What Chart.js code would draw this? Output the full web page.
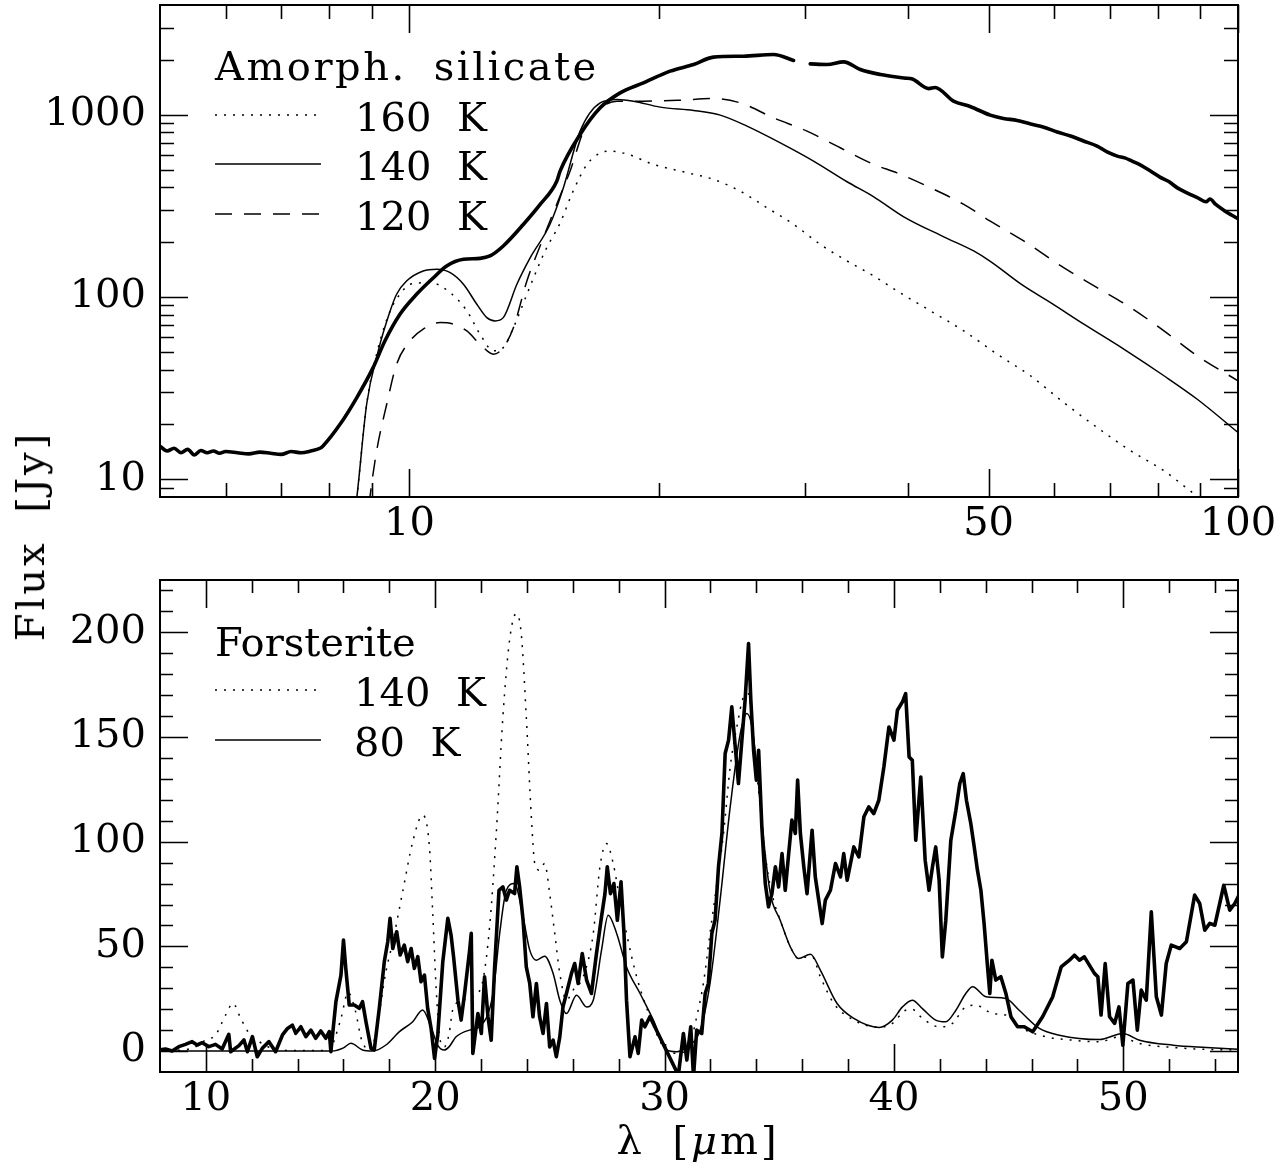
<!DOCTYPE html>
<html>
<head>
<meta charset="utf-8">
<script src="https://cdn.jsdelivr.net/npm/chart.js@4.4.1/dist/chart.umd.min.js"></script>
<style>
    html, body { margin: 0; padding: 0; background: #fff; }
    #wrap { position: relative; width: 1286px; height: 1171px; background: #fff; overflow: hidden; }
    #topBox { position: absolute; left: 0; top: 0; }
    #botBox { position: absolute; left: 0; top: 560px; }
    .axis-title {
        position: absolute;
        font-family: 'DejaVu Serif', serif;
        font-size: 40px;
        line-height: 1;
        white-space: nowrap;
        color: #000;
        letter-spacing: 3px;
        word-spacing: 12px;
        transform: translate(-50%, -50%);
    }
    #yTitle { left: 30px; top: 536px; transform: translate(-50%, -50%) rotate(-90deg); }
    #xTitle { left: 698px; top: 1140px; }
</style>
</head>
<body>
<div id="wrap">
    <div id="topBox"><canvas id="topChart" width="1286" height="560"></canvas></div>
    <div id="botBox"><canvas id="botChart" width="1286" height="611"></canvas></div>
    <div class="axis-title" id="yTitle">Flux [Jy]</div>
    <div class="axis-title" id="xTitle">λ [<i>μ</i>m]</div>
</div>
<script>
// ===== DATA =====
// Upper panel: amorphous silicate fits (log-log)
const silObsX = [5.0, 5.1, 5.2, 5.3, 5.4, 5.5, 5.6, 5.7, 5.8, 5.9, 6.0, 6.2, 6.4, 6.6, 6.8, 7.0, 7.2, 7.4, 7.6, 7.8,
    7.87, 8.25, 8.64, 9.04, 9.34, 9.74, 10.2, 10.69, 11.09, 11.62, 12.17, 12.51, 12.98, 13.73, 14.38, 15.06, 15.2,
    16.07, 16.99, 17.96, 19.16, 20.64, 22.03, 23.28, 25.31, 27.51, 29.08, 29.7, 30.46, 31.92, 33.42, 35.01, 37.02,
    39.54, 40.46, 42.35, 43.09, 45.36, 47.5, 50.24, 52.1, 54.14, 56.2, 58.3, 60.5, 62.8, 65.1, 67.6, 69.5, 71.5,
    73.0, 74.5, 76.4, 78.4, 80.5, 82.5, 84.5, 86.9, 89.3, 91.5, 92.5, 94.0, 96.5, 98.2, 100];
const silObsY = [15.2, 14.3, 14.8, 14.0, 14.6, 13.6, 14.4, 14.0, 14.3, 13.9, 14.2, 14.0, 13.8, 14.1, 13.9, 13.7, 14.2, 14.0, 14.3, 14.8,
    15.3, 20.1, 28.1, 41.0, 57.4, 80.5, 103.5, 127.6, 148, 161, 163, 168, 190.5, 250.6, 322, 432, 491,
    780, 1091, 1318, 1496, 1734, 1888, 2070, 2095, 2140, 1985, null, 1902, 1888, 1951, 1771, 1663,
    1591, 1570, 1391, 1410, 1188, 1110, 995, 955, 931, 890, 855, 805, 764, 718, 673, 625, 593,
    580, 557, 528, 491, 455, 430, 397, 372, 351, 333, 345, 322, 296, 282, 269];

const sil160X = [8.52, 8.64, 8.88, 9.17, 9.48, 9.74, 10.02, 10.59, 11.2, 11.73, 12.17, 12.63, 12.98, 13.35, 13.99,
    14.58, 15.2, 15.76, 16.39, 16.99, 17.47, 18.32, 19.71, 21.63, 23.28, 25.07, 27.01, 29.08, 31.32, 33.74, 36.34,
    38.77, 42.54, 46.67, 51.21, 56.17, 61.6, 67.6, 74.2, 81.4, 88.1, 94, 100];
const sil160Y = [5, 7.96, 25.9, 52.8, 84, 103.6, 117.5, 120, 105.7, 84, 62.5, 50.7, 52.8, 67.9, 115,
    179, 254.7, 381, 536, 616, 631, 608, 534, 481, 442, 381, 309, 250.6, 194.6, 157.7, 130.5,
    108, 84, 65.2, 48.6, 37.0, 26.4, 19.25, 14.35, 11.15, 8.47, 6.9, 5.6];

const sil140X = [8.52, 8.64, 8.88, 9.17, 9.48, 9.65, 9.92, 10.39, 10.79, 11.2, 11.62, 12.06, 12.4, 12.69, 12.98,
    13.48, 13.99, 14.78, 15.34, 16.07, 16.99, 17.8, 18.64, 20.08, 22.03, 23.72, 25.55, 28.03, 30.74, 33.74, 36.34,
    39.5, 44.15, 47.97, 50.24, 55.13, 59.4, 65.16, 72.8, 81.4, 89.3, 100];
const sil140Y = [5, 7.96, 25.9, 50.7, 84, 103.6, 122.4, 139, 142, 136, 117.5, 91.3, 77.1, 74, 77.1,
    117.5, 164.4, 250.6, 398, 813, 1162, 1213, 1187, 1101, 1056, 995, 866, 701, 557, 429, 354.6,
    275.6, 214, 179, 157, 115, 93.2, 71, 51.8, 37.0, 27.5, 18.07];

const sil120X = [8.86, 8.96, 9.13, 9.39, 9.65, 10.02, 10.39, 10.89, 11.3, 11.73, 12.17, 12.63, 12.98, 13.35, 13.86,
    14.51, 15.34, 15.63, 16.22, 16.84, 17.8, 19.16, 21.22, 23.28, 25.07, 27.51, 30.19, 33.11, 36.34, 38.77,
    42.54, 46.67, 50.24, 55.13, 61.6, 67.6, 74.2, 81.4, 89.3, 100];
const sil120Y = [5, 7.96, 14.35, 25.9, 42.8, 57.5, 66.6, 72.4, 71, 65.2, 55.1, 48.6, 52.8, 67.9, 122.4,
    211.6, 398, 491, 813, 1046, 1187, 1187, 1202, 1228, 1162, 961, 813, 659, 534, 480,
    398, 322, 261, 203, 145, 112.6, 87.5, 65.2, 47.6, 34.7];

// Lower panel: forsterite fits (linear)
const forObsX = [7.95, 8.24, 8.53, 8.82, 9.11, 9.40, 9.62, 9.84, 10.13, 10.42, 10.71, 11.0, 11.08, 11.44, 11.66, 11.81,
    12.03, 12.24, 12.46, 12.75, 13.04, 13.34, 13.56, 13.77, 13.92, 14.14, 14.36, 14.58, 14.79, 15.01, 15.23, 15.38,
    15.45, 15.67, 15.89, 16.0, 16.1, 16.25, 16.47, 16.69, 16.83, 16.98, 17.2, 17.34, 17.56, 17.78, 17.93, 18.03,
    18.15, 18.32, 18.47, 18.65, 18.8, 18.95, 19.09, 19.24, 19.38, 19.53, 19.67, 19.82, 19.97, 20.11, 20.33, 20.55,
    20.69, 20.8, 20.99, 21.13, 21.28, 21.5, 21.57, 21.64, 21.86, 22.01, 22.15, 22.3, 22.44, 22.59, 22.78, 22.95,
    23.1, 23.24, 23.46, 23.56, 23.68, 23.83, 23.97, 24.12, 24.26, 24.41, 24.55, 24.7, 24.85, 24.99, 25.14, 25.28,
    25.43, 25.57, 25.72, 25.94, 26.08, 26.23, 26.41, 26.6, 26.81, 27.03, 27.25, 27.4, 27.5, 27.64, 27.79, 27.94,
    28.1, 28.23, 28.34, 28.49, 28.71, 28.85, 29.0, 29.14, 29.36, 30.6, 30.82, 30.97, 31.14, 31.26, 31.4, 31.62,
    31.77, 31.91, 32.06, 32.2, 32.35, 32.5, 32.64, 32.79, 32.93, 33.08, 33.22, 33.37, 33.51, 33.66, 33.76, 33.88,
    34.0, 34.1, 34.24, 34.39, 34.53, 34.68, 34.83, 34.97, 35.12, 35.26, 35.41, 35.55, 35.7, 35.8, 35.92, 36.07,
    36.21, 36.43, 36.57, 36.72, 36.87, 37.01, 37.23, 37.45, 37.67, 37.81, 37.96, 38.25, 38.47, 38.69, 38.9, 39.12,
    39.34, 39.56, 39.78, 40.0, 40.15, 40.37, 40.51, 40.66, 40.8, 40.95, 41.17, 41.36, 41.53, 41.68, 41.82, 41.97,
    42.11, 42.26, 42.48, 42.7, 42.87, 43.02, 43.16, 43.35, 43.5, 43.64, 43.79, 43.93, 44.08, 44.18, 44.27, 44.44,
    44.66, 44.88, 45.1, 45.39, 45.68, 46.05, 46.48, 46.92, 47.29, 47.65, 47.87, 48.09, 48.3, 48.74, 48.89, 49.03,
    49.21, 49.4, 49.62, 49.81, 49.98, 50.2, 50.42, 50.61, 50.78, 51.0, 51.22, 51.44, 51.66, 51.87, 52.09, 52.46,
    52.75, 53.11, 53.33, 53.55, 53.77, 53.99, 54.38, 54.64, 54.86, 55.08];
const forObsY = [0.5, 1.0, 0, 2.1, 3.2, 4.5, 2.9, 4.0, 2.1, 3.2, 1.0, 8.0, -0.3, 2.6, 5.3, -0.3,
    6.9, -2.7, 1.3, 4.5, -0.3, 7.7, 10.8, 12.4, 8.5, 11.6, 6.9, 10.0, 6.1, 9.6, 6.1, 9.3,
    -0.3, 23.6, 36.3, 53.0, 39.5, 22.0, 22.0, 20.4, 23.6, 14.0, 1.3, 0.5, 20.4, 42.7, 52.2, 63.4,
    49.0, 57.0, 45.9, 50.6, 42.7, 49.0, 39.5, 45.1, 33.1, 36.3, 20.4, 10.8, -3.5, 7.7, 42.7, 63.4,
    55.4, 45.0, 24.3, 14.8, 27.5, 48.2, 56.2, -1.1, 17.9, 8.4, 35.5, 16.4, 5.2, 40.2, 76.8, 78.4,
    72.1, 76.8, 75.2, 88.0, 78.4, 62.5, 40.2, 32.3, 16.4, 32.3, 16.4, 8.4, 22.7, 2.0, 5.2, -2.7,
    6.8, 21.1, 27.5, 37.1, 41.8, 32.3, 46.6, 33.9, 27.5, 46.6, 64.1, 75.2, 88.0, 75.2, 80.0, 62.5,
    80.8, 56.2, 24.3, -2.7, 6.8, -1.1, 14.8, 11.6, 16.4, -11.5, 8.4, -4.3, 11.6, -12.3, 10.0, 8.4,
    27.5, 32.3, 56.2, 62.5, 88.0, 103.9, 142.1, 148.5, 164.4, 145.3, 127.8, 148.5, 167.6, 194.6, 167.6, 143.7,
    129.4, 143.7, 107.1, 80.0, 68.9, 75.2, 88.0, 78.4, 94.3, 76.8, 94.3, 110.3, 103.9, 129.4, 103.9, 88.0,
    75.2, 105.5, 83.2, 72.1, 60.9, 72.1, 76.8, 89.6, 83.2, 94.3, 81.6, 97.5, 92.7, 111.9, 116.6, 113.4,
    119.8, 135.7, 154.8, 148.5, 162.8, 166.8, 170.7, 140.5, 138.9, 100.7, 130.9, 91.2, 76.8, 88.0, 97.5, 81.6,
    45.0, 62.5, 100.7, 115.0, 127.8, 132.5, 119.8, 108.7, 97.5, 86.4, 76.8, 60.9, 40.2, 27.5, 43.4, 33.9,
    35.5, 27.5, 16.4, 11.6, 11.6, 9.2, 16.4, 25.9, 40.2, 43.4, 45.8, 43.4, 45.0, 37.1, 35.5, 17.2,
    41.8, 16.4, 13.2, 21.1, 2.8, 32.3, 33.9, 10.0, 29.1, 24.3, 66.5, 25.9, 17.2, 41.8, 50.6, 49.0,
    52.2, 74.5, 70.5, 57.7, 61.0, 60.1, 79.2, 67.3, 70.5, 75.3];

const for140X = [8, 9.4, 9.99, 10.42, 10.86, 11.18, 11.52, 11.88, 12.32, 12.9, 13.77, 15.38, 15.67, 15.9, 16.2, 16.5,
    16.8, 17.2, 17.42, 17.85, 18.15, 18.58, 19.02, 19.45, 19.75, 19.89, 20.04, 20.2, 20.4, 20.6, 20.77, 21.2,
    21.64, 22.08, 22.37, 22.66, 22.95, 23.24, 23.53, 23.75, 23.97, 24.19, 24.34, 24.55, 24.77, 24.99, 25.21, 25.43,
    25.72, 26.01, 26.45, 26.89, 27.18, 27.47, 27.76, 28.05, 28.34, 28.78, 29.36, 29.95, 30.53, 31.11, 31.4, 31.69,
    31.98, 32.28, 32.57, 32.86, 33.15, 33.44, 33.66, 33.88, 34.17, 34.46, 34.75, 35.04, 35.48, 35.84, 36.21, 36.43,
    36.79, 37.38, 38.25, 39.35, 39.93, 40.51, 40.8, 41.24, 41.97, 42.55, 43.13, 43.57, 44.3, 44.88, 45.61, 46.63,
    47.8, 48.96, 49.83, 50.71, 52.17, 53.62, 55.08];
const for140Y = [0, 1.3, 5.3, 7.7, 17.2, 22.8, 15.6, 8.5, 4.5, 1.3, 0.3, 0.3, 7.7, 16, 28, 20,
    5, 0.5, 9.3, 37.9, 52.2, 76.1, 100, 112.7, 97, 66, 30, 6, 2, 8, 20, 24.3,
    25.9, 33.9, 59.3, 103.9, 159.6, 196.2, 208.9, 199.4, 159.6, 111.9, 89.6, 86.4, 89.6, 75.2, 56.2, 37.1,
    24.3, 29.1, 35.5, 56.2, 88.0, 99.1, 89.6, 72.1, 56.2, 35.5, 16.4, 2.0, -1.1, 3.6, 16.4, 32.3,
    56.2, 80.0, 103.9, 135.7, 154.8, 169.1, 170.7, 148.5, 116.6, 88.0, 72.1, 62.5, 49.8, 44.2, 45.0, 45.0,
    35.5, 22.7, 14.8, 11.3, 13.2, 19.5, 19.9, 15.6, 11.6, 13.2, 21.1, 21.9, 17.9, 17.2, 10.8, 6.8,
    5.2, 4.4, 6.8, 3.6, 1.7, 0.8, 0.5];

const for80X = [8, 15.5, 16.0, 16.32, 16.83, 17.27, 17.85, 18.44, 19.02, 19.45, 19.8, 20.1, 20.4, 20.6, 20.91, 21.5,
    21.93, 22.52, 22.81, 23.1, 23.45, 23.83, 24.12, 24.41, 24.77, 25.14, 25.43, 25.72, 26.16, 26.6, 26.89, 27.25,
    27.54, 27.91, 28.34, 28.93, 29.51, 30.09, 30.53, 30.97, 31.55, 31.98, 32.42, 32.86, 33.3, 33.59, 33.81, 34.02,
    34.32, 34.61, 35.04, 35.48, 35.84, 36.36, 36.79, 37.52, 38.25, 39.35, 39.93, 40.37, 40.8, 41.24, 41.82, 42.26,
    42.7, 43.13, 43.43, 44.01, 44.88, 45.46, 46.34, 47.21, 48.96, 49.98, 50.71, 52.17, 53.62, 55.08];
const for80Y = [0, 0, 1.5, 3.7, 0.5, 0, 2.9, 9.3, 14.0, 19.6, 12, 3, 0.5, 2, 6.8, 10.0,
    11.6, 27.5, 56.2, 76.8, 80, 64.1, 48.2, 43.4, 45.3, 37.1, 24.3, 17.9, 26.7, 21.1, 24.3, 48.2,
    64.9, 56.2, 40.2, 27.5, 14.8, 0.5, -0.3, 2.0, 10.0, 32.3, 72.1, 116.6, 151.6, 161.2, 154.8, 135.7,
    100.7, 75.2, 62.5, 49.8, 44.2, 46.3, 38.7, 22.7, 15.6, 11.3, 14.8, 21.1, 24.3, 20.3, 14.8, 14.0,
    19.5, 27.5, 30.7, 25.9, 25.1, 19.5, 10.8, 7.6, 5.5, 8.4, 5.2, 2.8, 1.7, 0.8];

// Tick values
const topXLabels = [10, 50, 100];
const topXMinor = [6, 7, 8, 9, 20, 30, 40, 60, 70, 80, 90];
const topYLabels = [10, 100, 1000];
const topYMinor = [9, 20, 30, 40, 50, 60, 70, 80, 90, 200, 300, 400, 500, 600, 700, 800, 900, 2000, 3000];
const botXLabels = [10, 20, 30, 40, 50];
const botXMinor = [12, 14, 16, 18, 22, 24, 26, 28, 32, 34, 36, 38, 42, 44, 46, 48, 52, 54];
const botYLabels = [0, 50, 100, 150, 200];
const botYMinor = [10, 20, 30, 40, 60, 70, 80, 90, 110, 120, 130, 140, 160, 170, 180, 190, 210, 220];

// ===== STYLE =====
const FONT = "'DejaVu Serif', serif";
const ink = '#000';
const thick = 3.6;
const thin = 1.5;
const dotDash = [2, 7];
const longDash = [17, 12];

const pts = (xs, ys) => xs.map((x, i) => ({ x, y: ys[i] }));

/**
 * Draws the closed frame and inward ticks on all four sides
 */
const idlFrame = {
    id: 'idlFrame',
    afterDatasetsDraw(chart, args, opts) {
        const { ctx, chartArea: a, scales } = chart;
        const xs = scales.x;
        const ys = scales.y;
        ctx.save();
        ctx.strokeStyle = ink;
        ctx.lineWidth = 1.6;
        ctx.setLineDash([]);
        ctx.beginPath();
        const tickX = (v, len) => {
            const p = Math.round(xs.getPixelForValue(v)) + 0.5;
            ctx.moveTo(p, a.bottom); ctx.lineTo(p, a.bottom - len);
            ctx.moveTo(p, a.top); ctx.lineTo(p, a.top + len);
        };
        const tickY = (v, len) => {
            const p = Math.round(ys.getPixelForValue(v)) + 0.5;
            ctx.moveTo(a.left, p); ctx.lineTo(a.left + len, p);
            ctx.moveTo(a.right, p); ctx.lineTo(a.right - len, p);
        };
        opts.xMajor.forEach(v => tickX(v, opts.major));
        opts.xMinor.forEach(v => tickX(v, opts.minor));
        opts.yMajor.forEach(v => tickY(v, opts.major));
        opts.yMinor.forEach(v => tickY(v, opts.minor));
        ctx.stroke();
        ctx.lineWidth = 2;
        ctx.strokeRect(a.left, a.top, a.right - a.left, a.bottom - a.top);
        ctx.restore();
    }
};

/**
 * Draws the in-plot legend: a heading then one line sample per labelled dataset
 */
const idlLegend = {
    id: 'idlLegend',
    afterDraw(chart, args, opts) {
        const { ctx } = chart;
        ctx.save();
        ctx.fillStyle = ink;
        ctx.strokeStyle = ink;
        ctx.font = '40px ' + FONT;
        ctx.textBaseline = 'alphabetic';
        ctx.textAlign = 'left';
        ctx.letterSpacing = opts.titleLetter;
        ctx.wordSpacing = opts.titleWord;
        ctx.fillText(opts.title, opts.x, opts.titleY);
        ctx.letterSpacing = '0px';
        ctx.wordSpacing = '13px';
        const labelled = chart.data.datasets.filter(d => d.label);
        opts.rows.forEach((rowY, i) => {
            const ds = labelled[i];
            ctx.lineWidth = ds.borderWidth;
            ctx.setLineDash(ds.borderDash || []);
            ctx.beginPath();
            ctx.moveTo(opts.x, rowY);
            ctx.lineTo(opts.lineEnd, rowY);
            ctx.stroke();
            ctx.setLineDash([]);
            ctx.fillText(ds.label, opts.textX, rowY + 16);
        });
        ctx.restore();
    }
};

const tickFont = { family: FONT, size: 40 };

const scaleCommon = (type, min, max, labels, padding, horizontal, fitVal) => ({
    type,
    min,
    max,
    grid: { display: false, drawTicks: false },
    border: { display: false },
    afterBuildTicks: axis => { axis.ticks = labels.map(v => ({ value: v })); },
    afterFit: scale => {
        // fixed axis size and no label overhang, so the plot box lands where the frame is
        if (horizontal) {
            scale.height = fitVal;
            scale.paddingLeft = 0;
            scale.paddingRight = 0;
        } else {
            scale.width = fitVal;
            scale.paddingTop = 0;
            scale.paddingBottom = 0;
        }
    },
    ticks: {
        color: ink,
        font: tickFont,
        padding,
        autoSkip: false,
        maxRotation: 0,
        callback: v => String(v)
    }
});

const modelLine = (label, xs, ys, dash) => ({
    label,
    data: pts(xs, ys),
    borderColor: ink,
    borderWidth: thin,
    borderDash: dash,
    pointRadius: 0,
    cubicInterpolationMode: 'monotone',
    spanGaps: false
});

const obsLine = (xs, ys, smooth) => ({
    label: '',
    data: pts(xs, ys),
    borderColor: ink,
    borderWidth: thick,
    borderJoinStyle: 'round',
    borderCapStyle: 'round',
    pointRadius: 0,
    cubicInterpolationMode: smooth ? 'monotone' : 'default',
    tension: 0,
    spanGaps: false
});

const baseOptions = (padTop, xAxis, yAxis, frame, legend) => ({
    responsive: false,
    animation: false,
    events: [],
    layout: { padding: { top: padTop, right: 48, left: 0, bottom: 0 } },
    scales: { x: xAxis, y: yAxis },
    plugins: {
        legend: { display: false },
        tooltip: { enabled: false },
        idlFrame: frame,
        idlLegend: legend
    }
});

// ===== UPPER PANEL =====
new Chart(document.getElementById('topChart'), {
    type: 'line',
    data: {
        datasets: [
            obsLine(silObsX, silObsY, true),
            modelLine('160 K', sil160X, sil160Y, dotDash),
            modelLine('140 K', sil140X, sil140Y, []),
            modelLine('120 K', sil120X, sil120Y, longDash)
        ]
    },
    options: baseOptions(5,
        scaleCommon('logarithmic', 5, 100, topXLabels, 4, true, 63),
        scaleCommon('logarithmic', 8, 4000, topYLabels, 14, false, 160),
        { xMajor: topXLabels, xMinor: topXMinor, yMajor: topYLabels, yMinor: topYMinor, major: 28, minor: 14 },
        { title: 'Amorph. silicate', titleLetter: '2.5px', titleWord: '12px',
          x: 215, titleY: 80, lineEnd: 321, textX: 355, rows: [115, 164, 214] }
    ),
    plugins: [idlFrame, idlLegend]
});

// ===== LOWER PANEL =====
new Chart(document.getElementById('botChart'), {
    type: 'line',
    data: {
        datasets: [
            obsLine(forObsX, forObsY, false),
            modelLine('140 K', for140X, for140Y, dotDash),
            modelLine('80 K', for80X, for80Y, [])
        ]
    },
    options: baseOptions(20,
        scaleCommon('linear', 8, 55, botXLabels, 4, true, 99),
        scaleCommon('linear', -10, 225, botYLabels, 14, false, 160),
        { xMajor: botXLabels, xMinor: botXMinor, yMajor: botYLabels, yMinor: botYMinor, major: 28, minor: 13 },
        { title: 'Forsterite', titleLetter: '0px', titleWord: '0px',
          x: 215, titleY: 96, lineEnd: 321, textX: 354, rows: [130, 180] }
    ),
    plugins: [idlFrame, idlLegend]
});
</script>
</body>
</html>
